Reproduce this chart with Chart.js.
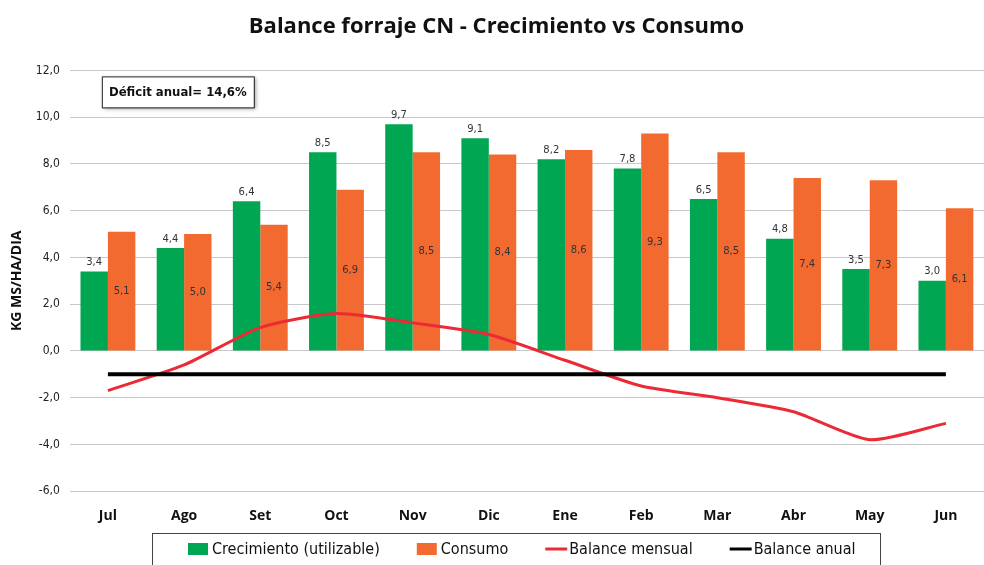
<!DOCTYPE html>
<html>
<head>
<meta charset="utf-8">
<script src="https://cdn.jsdelivr.net/npm/chart.js@4/dist/chart.umd.min.js"></script>
<style>
  html, body { margin: 0; padding: 0; background: #fff; }
  #wrap { width: 984px; height: 565px; position: relative; }
</style>
</head>
<body>
<div id="wrap"><canvas id="chart"></canvas></div>
<script>
// data
const meses = ['Jul', 'Ago', 'Set', 'Oct', 'Nov', 'Dic', 'Ene', 'Feb', 'Mar', 'Abr', 'May', 'Jun'];
const crecimiento = [3.4, 4.4, 6.4, 8.5, 9.7, 9.1, 8.2, 7.8, 6.5, 4.8, 3.5, 3.0];
const consumo = [5.1, 5.0, 5.4, 6.9, 8.5, 8.4, 8.6, 9.3, 8.5, 7.4, 7.3, 6.1];
const balanceMensual = [-1.7, -0.6, 1.0, 1.6, 1.2, 0.7, -0.4, -1.5, -2.0, -2.6, -3.8, -3.1];
const balanceAnual = [-1.0, -1.0, -1.0, -1.0, -1.0, -1.0, -1.0, -1.0, -1.0, -1.0, -1.0, -1.0];
const deficitTexto = 'Déficit anual= 14,6%';

const coma = v => v.toFixed(1).replace('.', ',');
const legendFont = '16px "DejaVu Sans Condensed", "DejaVu Sans"';

// value labels: green above the bar, orange in the middle
const barLabels = {
  id: 'barLabels',
  afterDatasetsDraw(chart) {
    const ctx = chart.ctx;
    ctx.save();
    ctx.font = '10px "DejaVu Sans"';
    ctx.fillStyle = '#333';
    ctx.textAlign = 'center';
    ctx.textBaseline = 'middle';
    chart.getDatasetMeta(0).data.forEach((bar, i) => {
      ctx.fillText(coma(crecimiento[i]), bar.x, bar.y - 9);
    });
    chart.getDatasetMeta(1).data.forEach((bar, i) => {
      ctx.fillText(coma(consumo[i]), bar.x, (bar.y + bar.base) / 2);
    });
    ctx.restore();
  }
};

// annotation box + framed legend at the bottom
const extras = {
  id: 'extras',
  afterDraw(chart) {
    const ctx = chart.ctx;
    const area = chart.chartArea;
    ctx.save();
    // Déficit box
    const bx = area.left + 32, by = area.top + 6, bw = 152, bh = 31;
    ctx.shadowColor = 'rgba(0,0,0,0.35)';
    ctx.shadowBlur = 4;
    ctx.shadowOffsetX = 2;
    ctx.shadowOffsetY = 2;
    ctx.fillStyle = '#fff';
    ctx.fillRect(bx, by, bw, bh);
    ctx.shadowColor = 'transparent';
    ctx.strokeStyle = '#222';
    ctx.lineWidth = 1;
    ctx.strokeRect(bx + 0.5, by + 0.5, bw, bh);
    ctx.fillStyle = '#111';
    ctx.font = 'bold 13px "DejaVu Sans Condensed", "DejaVu Sans"';
    ctx.textAlign = 'center';
    ctx.textBaseline = 'middle';
    ctx.fillText(deficitTexto, bx + bw / 2, by + bh / 2 + 1);

    // legend
    ctx.strokeStyle = '#444';
    ctx.strokeRect(152.5, 533.5, 728, 60);
    ctx.font = legendFont;
    ctx.textAlign = 'left';
    let x = 188;
    const y = 549;
    chart.data.datasets.forEach(ds => {
      if (ds.type === 'bar') {
        ctx.fillStyle = ds.backgroundColor;
        ctx.fillRect(x, y - 6, 20, 12);
      } else {
        ctx.strokeStyle = ds.borderColor;
        ctx.lineWidth = 3;
        ctx.beginPath();
        ctx.moveTo(x, y);
        ctx.lineTo(x + 22, y);
        ctx.stroke();
      }
      x += 24;
      ctx.fillStyle = '#111';
      ctx.fillText(ds.label, x, y + 1);
      x += ctx.measureText(ds.label).width + 37;
    });
    ctx.restore();
  }
};

new Chart(document.getElementById('chart'), {
  data: {
    labels: meses,
    datasets: [
      {
        type: 'bar',
        label: 'Crecimiento (utilizable)',
        data: crecimiento,
        backgroundColor: '#00a651',
        order: 2,
        categoryPercentage: 0.72,
        barPercentage: 1.0
      },
      {
        type: 'bar',
        label: 'Consumo',
        data: consumo,
        backgroundColor: '#f26a30',
        order: 2,
        categoryPercentage: 0.72,
        barPercentage: 1.0
      },
      {
        type: 'line',
        label: 'Balance mensual',
        data: balanceMensual,
        borderColor: '#ec2a36',
        backgroundColor: '#ec2a36',
        borderWidth: 3,
        pointRadius: 0,
        tension: 0.22,
        order: 1
      },
      {
        type: 'line',
        label: 'Balance anual',
        data: balanceAnual,
        borderColor: '#000',
        backgroundColor: '#000',
        borderWidth: 4,
        pointRadius: 0,
        order: 0
      }
    ]
  },
  options: {
    responsive: true,
    maintainAspectRatio: false,
    animation: false,
    layout: { padding: { left: 9, right: 0, top: 0, bottom: 33 } },
    plugins: {
      title: {
        display: true,
        text: 'Balance forraje CN - Crecimiento vs Consumo',
        color: '#111',
        font: { family: '"Open Sans"', size: 22, weight: 'bold' },
        padding: { top: 14, bottom: 30 }
      },
      legend: { display: false },
      tooltip: { enabled: false }
    },
    scales: {
      x: {
        grid: { display: false },
        border: { display: false },
        ticks: {
          color: '#111',
          font: { family: '"Open Sans"', size: 14, weight: 'bold' },
          padding: 8
        }
      },
      y: {
        min: -6,
        max: 12,
        ticks: {
          stepSize: 2,
          color: '#222',
          font: { family: '"DejaVu Sans Condensed", "DejaVu Sans"', size: 12 },
          padding: 10,
          callback: v => coma(v)
        },
        grid: { color: '#c8c8c8', drawTicks: false },
        border: { display: false },
        title: {
          display: true,
          text: 'KG MS/HA/DIA',
          color: '#111',
          font: { family: '"Open Sans"', size: 14, weight: 'bold' },
          padding: 0
        }
      }
    }
  },
  plugins: [barLabels, extras]
});
</script>
</body>
</html>
